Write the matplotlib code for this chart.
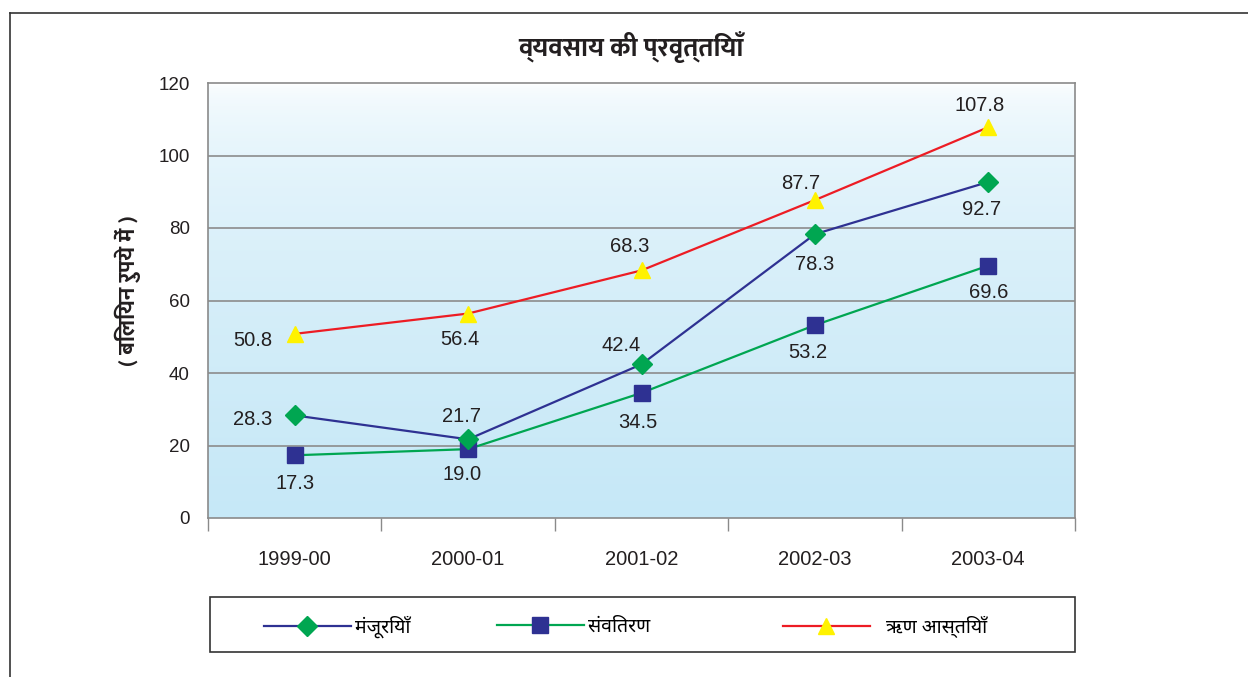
import numpy as np
import matplotlib
matplotlib.use("Agg")
import matplotlib.pyplot as plt
from matplotlib import font_manager
from matplotlib.patches import Rectangle
from matplotlib.lines import Line2D

# data
years = ["1999-00", "2000-01", "2001-02", "2002-03", "2003-04"]
manjuriyan = [28.3, 21.7, 42.4, 78.3, 92.7]
samvitaran = [17.3, 19.0, 34.5, 53.2, 69.6]
rin_astiyan = [50.8, 56.4, 68.3, 87.7, 107.8]
yticks = [0, 20, 40, 60, 80, 100, 120]

title = "व्यवसाय की प्रवृत्तियाँ"
ylabel = "( बिलियन रुपये में )"
names = ["मंजूरियाँ", "संवितरण", "ऋण आस्तियाँ"]

# label offsets in points (dx, dy)
off1 = [(-30, -3), (-5, 16.5), (-14.5, 13.5), (0, -22), (-5, -19.5)]
off2 = [(0.5, -20), (-4.5, -18), (-3, -21.5), (-5, -19.5), (0, -19.5)]
off3 = [(-30, -4.5), (-6, -19), (-8.5, 17.5), (-10, 12), (-6.5, 16)]

# pick Devanagari fonts
avail = set(f.name for f in font_manager.fontManager.ttflist)
deva = "DejaVu Sans"
for cand in ["Noto Sans Devanagari", "Mukta", "Hind", "Poppins", "Lohit Devanagari", "Ek Mukta", "Annapurna SIL", "FreeSans"]:
    if cand in avail:
        deva = cand
        break
deva_bold = deva
for cand in ["Ek Mukta", "Biryani", "Amiko", "FreeSans"]:
    if cand in avail:
        deva_bold = cand
        break
num_font = "Liberation Sans"

fig = plt.figure(figsize=(12.48, 6.77), dpi=100)
ax = fig.add_axes([208 / 1248, 1 - 518 / 677, 867 / 1248, 435 / 677])

# gradient background, white at top to light blue at bottom
grad = np.linspace(0, 1, 256).reshape(-1, 1)
top = np.array([1.0, 1.0, 1.0])
bot = np.array([0xc6, 0xe8, 0xf7]) / 255
img = top + (bot - top) * grad[..., None] ** 0.45
img = img.reshape(256, 1, 3)
ax.imshow(img, extent=[0, 1, 0, 1], transform=ax.transAxes, aspect="auto", zorder=0)

x = np.arange(len(years))
l1, = ax.plot(x, manjuriyan, color="#2e3192", lw=1.6, marker="D", ms=10,
              mfc="#00a651", mec="#00a651", zorder=4)
l2, = ax.plot(x, samvitaran, color="#00a651", lw=1.6, marker="s", ms=11.5,
              mfc="#2e3192", mec="#2e3192", zorder=3)
l3, = ax.plot(x, rin_astiyan, color="#ed1c24", lw=1.6, marker="^", ms=12,
              mfc="#fff200", mec="#fff200", zorder=3)

for vals, offs in [(manjuriyan, off1), (samvitaran, off2), (rin_astiyan, off3)]:
    for xi, v, o in zip(x, vals, offs):
        ax.annotate("%.1f" % v, (xi, v), xytext=o, textcoords="offset points",
                    ha="center", va="center", fontsize=14.5, color="#231f20",
                    family=num_font, zorder=5)

ax.set_xlim(-0.5, 4.5)
ax.set_ylim(0, 120)
ax.set_yticks(yticks)
ax.set_yticklabels([str(t) for t in yticks], family=num_font, fontsize=13.5, color="#231f20")
ax.tick_params(axis="y", length=0, pad=13)
ax.set_xticks(x)
ax.set_xticklabels(years, family=num_font, fontsize=14.5, color="#231f20")
ax.tick_params(axis="x", which="major", length=0, pad=23)
ax.set_xticks(np.arange(-0.5, 5, 1), minor=True)
ax.tick_params(axis="x", which="minor", length=9, width=1, color="#8a8a8a")
for yv in yticks[1:-1]:
    ax.axhline(yv, color="#8c8c8c", lw=1.2, zorder=1)
for s in ax.spines.values():
    s.set_color("#8a8a8a")
    s.set_linewidth(1.2)

fig.text(631 / 1248, 1 - 47 / 677, title, ha="center", va="center",
         fontsize=19, fontweight="bold", family=[deva_bold, "DejaVu Sans"], color="#231f20")
fig.text(128 / 1248, 1 - 291 / 677, ylabel, ha="center", va="center", rotation=90,
         fontsize=16.5, fontweight="bold", family=[deva_bold, "DejaVu Sans"], color="#231f20")

# outer frame lines
fig.add_artist(Line2D([10 / 1248, 10 / 1248], [0, 1 - 13 / 677], transform=fig.transFigure,
                      color="#333333", lw=1.2))
fig.add_artist(Line2D([10 / 1248, 1], [1 - 13 / 677, 1 - 13 / 677], transform=fig.transFigure,
                      color="#333333", lw=1.2))

# legend box
fig.add_artist(Rectangle((210 / 1248, 1 - 652 / 677), 865 / 1248, 55 / 677,
                         transform=fig.transFigure, fill=False, ec="#333333", lw=1.2))
for h, name, xpos, pad in zip([l1, l2, l3], names, [246, 479, 765], [0.2, 0.2, 0.8]):
    fig.legend(handles=[h], labels=[name], loc="center left",
               bbox_to_anchor=(xpos / 1248, 1 - 627 / 677), frameon=False,
               handlelength=4.5, handletextpad=pad,
               prop={"family": [deva, "DejaVu Sans"], "size": 14})

fig.savefig("out.png", dpi=100)
